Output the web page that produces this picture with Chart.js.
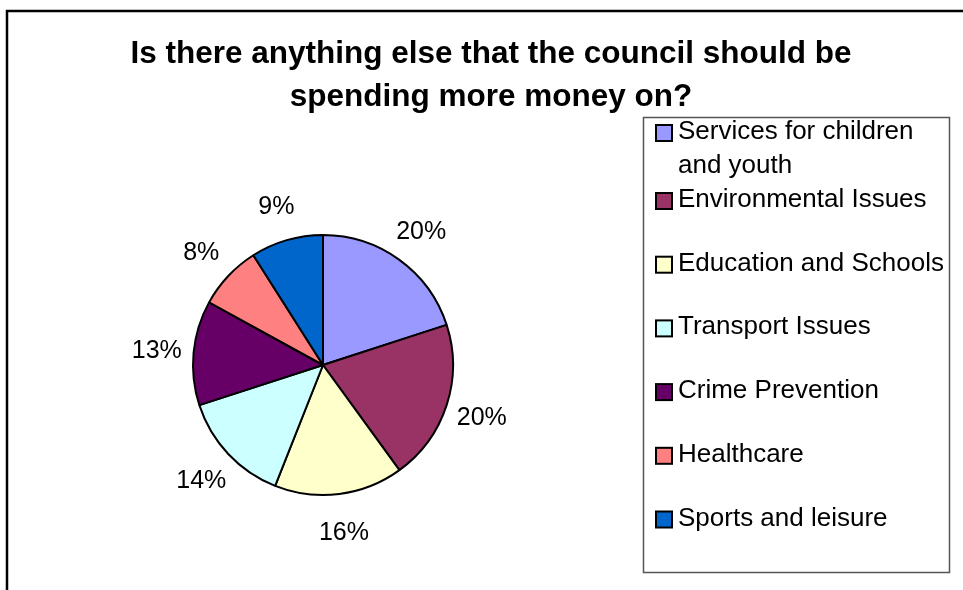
<!DOCTYPE html>
<html>
<head>
<meta charset="utf-8">
<script src="https://cdn.jsdelivr.net/npm/chart.js@4.4.1/dist/chart.umd.min.js"></script>
<style>
  html, body { margin: 0; padding: 0; background: #fff; }
  canvas { display: block; }
</style>
</head>
<body>
<canvas id="chart" width="963" height="590"></canvas>
<script>
const titleLines = ['Is there anything else that the council should be', 'spending more money on?']
const categories = [
  'Services for children and youth',
  'Environmental Issues',
  'Education and Schools',
  'Transport Issues',
  'Crime Prevention',
  'Healthcare',
  'Sports and leisure'
]
const shares = [20, 20, 16, 14, 13, 8, 9]
const sliceColors = ['#9999FF', '#993366', '#FFFFCC', '#CCFFFF', '#660066', '#FF8080', '#0066CC']

const FONT = '"Liberation Sans", Arial, sans-serif'

// outer frame, only the top and left edges are inside the page
const framePlugin = {
  id: 'frame',
  beforeDraw(chart) {
    const ctx = chart.ctx
    ctx.save()
    ctx.fillStyle = '#fff'
    ctx.fillRect(0, 0, chart.width, chart.height)
    ctx.strokeStyle = '#000'
    ctx.lineWidth = 2.5
    ctx.beginPath()
    ctx.moveTo(7, chart.height)
    ctx.lineTo(7, 11)
    ctx.lineTo(chart.width, 11)
    ctx.stroke()
    ctx.restore()
  }
}

const titlePlugin = {
  id: 'twoLineTitle',
  afterDraw(chart) {
    const ctx = chart.ctx
    ctx.save()
    ctx.fillStyle = '#000'
    ctx.font = 'bold 31.5px ' + FONT
    ctx.textAlign = 'center'
    ctx.textBaseline = 'alphabetic'
    titleLines.forEach((line, i) => ctx.fillText(line, 491, 63 + i * 43))
    ctx.restore()
  }
}

// percentage labels just outside each slice
const percentPlugin = {
  id: 'percentLabels',
  afterDatasetsDraw(chart) {
    const ctx = chart.ctx
    const meta = chart.getDatasetMeta(0)
    ctx.save()
    ctx.fillStyle = '#000'
    ctx.font = '25px ' + FONT
    ctx.textAlign = 'center'
    ctx.textBaseline = 'middle'
    meta.data.forEach((arc, i) => {
      const p = arc.getProps(['x', 'y', 'startAngle', 'endAngle', 'outerRadius'], true)
      const mid = (p.startAngle + p.endAngle) / 2
      const r = p.outerRadius + 37
      const value = chart.data.datasets[0].data[i]
      ctx.fillText(value + '%', p.x + Math.cos(mid) * r, p.y + Math.sin(mid) * r + 2)
    })
    ctx.restore()
  }
}

function wrapText(ctx, text, maxWidth) {
  const words = text.split(' ')
  const lines = []
  let cur = ''
  words.forEach(w => {
    const test = cur ? cur + ' ' + w : w
    if (cur && ctx.measureText(test).width > maxWidth) {
      lines.push(cur)
      cur = w
    } else {
      cur = test
    }
  })
  if (cur) lines.push(cur)
  return lines
}

// boxed legend on the right
const legendBoxPlugin = {
  id: 'legendBox',
  afterDraw(chart) {
    const ctx = chart.ctx
    const box = { left: 643, top: 117, right: 949, bottom: 572 }
    ctx.save()
    ctx.strokeStyle = '#555'
    ctx.lineWidth = 1.5
    ctx.strokeRect(box.left + 0.5, box.top + 0.5, box.right - box.left, box.bottom - box.top)

    ctx.font = '26px ' + FONT
    ctx.textAlign = 'left'
    ctx.textBaseline = 'alphabetic'
    const textX = 678
    const maxW = box.right - textX
    const ds = chart.data.datasets[0]
    let y = 139
    chart.data.labels.forEach((label, i) => {
      const lines = wrapText(ctx, label, maxW)
      ctx.fillStyle = ds.backgroundColor[i]
      ctx.fillRect(656, y - 14, 16, 16)
      ctx.strokeStyle = '#000'
      ctx.lineWidth = 2
      ctx.strokeRect(656, y - 14, 16, 16)
      ctx.fillStyle = '#000'
      lines.forEach((line, j) => ctx.fillText(line, textX, y + j * 34))
      y += lines.length > 1 ? lines.length * 34 : 63.7
    })
    ctx.restore()
  }
}

new Chart(document.getElementById('chart'), {
  type: 'pie',
  data: {
    labels: categories,
    datasets: [{
      data: shares,
      backgroundColor: sliceColors,
      borderColor: '#000',
      borderWidth: 2
    }]
  },
  options: {
    responsive: false,
    animation: false,
    layout: {
      padding: { left: 192, right: 509, top: 234, bottom: 94 }
    },
    plugins: {
      legend: { display: false },
      title: { display: false },
      tooltip: { enabled: false }
    }
  },
  plugins: [framePlugin, titlePlugin, percentPlugin, legendBoxPlugin]
})
</script>
</body>
</html>
